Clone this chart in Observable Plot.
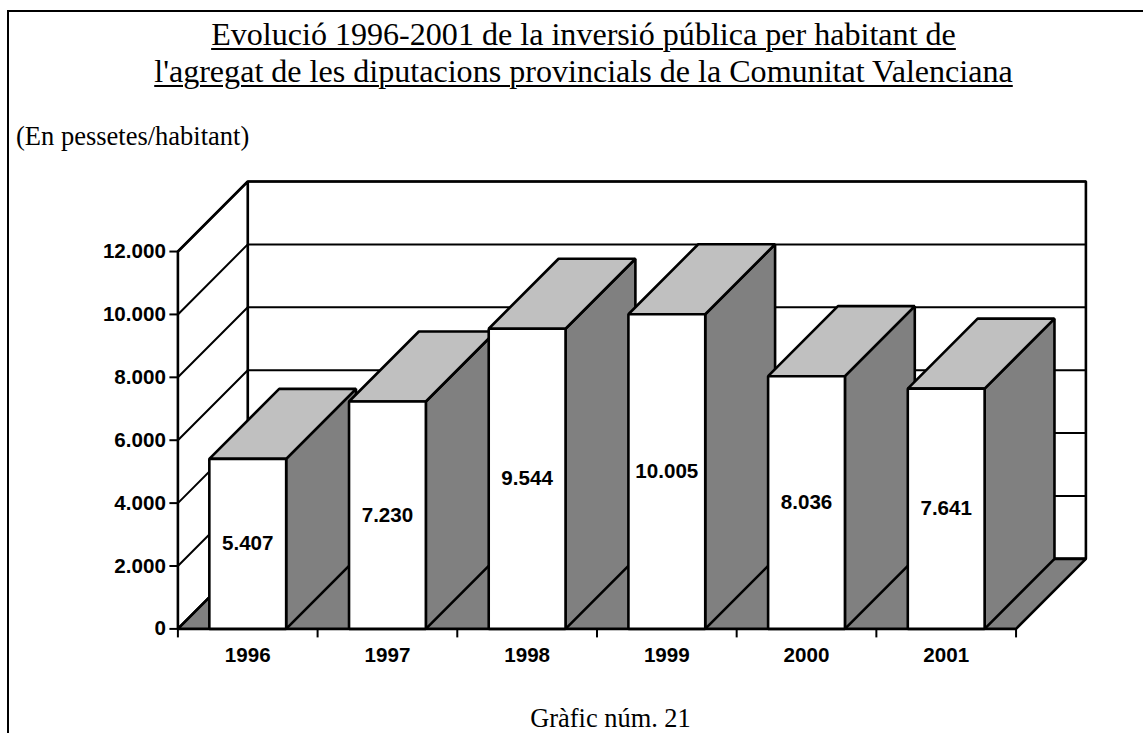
<!DOCTYPE html>
<html lang="ca">
<head>
<meta charset="utf-8">
<script src="https://cdn.jsdelivr.net/npm/d3@7"></script>
<script src="https://cdn.jsdelivr.net/npm/@observablehq/plot@0.6"></script>
<style>
html, body { margin: 0; padding: 0; background: #fff; overflow: hidden; }
#page { position: relative; width: 1143px; height: 733px; overflow: hidden; }
#frame { position: absolute; z-index: 2; left: 7px; top: 10px; right: -4px; bottom: -4px; border-left: 2px solid #000; border-top: 2px solid #000; pointer-events: none; }
#title, #unit, #caption { position: absolute; font-family: "Liberation Serif", serif; color: #000; }
#title { left: 0; width: 1167px; top: 16px; text-align: center; font-size: 32.1px; line-height: 37px; text-decoration: underline; text-underline-offset: 3px; text-decoration-thickness: 2px; }
#unit { left: 16px; top: 121px; font-size: 26.5px; line-height: 30px; }
#caption { left: 0; width: 1221px; top: 705.5px; text-align: center; font-size: 26.4px; line-height: 24px; }
#chart { position: absolute; left: 0; top: 170px; }
</style>
</head>
<body>
<div id="page">
  <div id="title">Evolució 1996-2001 de la inversió pública per habitant de<br>l'agregat de les diputacions provincials de la Comunitat Valenciana</div>
  <div id="unit">(En pessetes/habitant)</div>
  <div id="chart"></div>
  <div id="caption">Gràfic núm. 21</div>
  <div id="frame"></div>
</div>
<script>
// Data
const years = [1996, 1997, 1998, 1999, 2000, 2001];
const values = [5407, 7230, 9544, 10005, 8036, 7641];
const yTicks = [0, 2000, 4000, 6000, 8000, 10000, 12000];

// Oblique depth of the 3D projection, in data units
const depthX = 0.5, depthY = 2227;
const barLo = 0.225, barHi = 0.775;

const fmt = d3.formatLocale({decimal: ",", thousands: ".", grouping: [3], currency: ["", ""]}).format(",");

const poly = (id, fill, pts) => pts.map(([x, y]) => ({id, fill, x, y}));
const n = years.length, yMax = yTicks[yTicks.length - 1];

// Walls and floor
const walls = [
  ...poly("back", "#fff", [[depthX, depthY], [n + depthX, depthY], [n + depthX, yMax + depthY], [depthX, yMax + depthY]]),
  ...poly("left", "#fff", [[0, 0], [depthX, depthY], [depthX, yMax + depthY], [0, yMax]]),
  ...poly("floor", "#808080", [[0, 0], [n, 0], [n + depthX, depthY], [depthX, depthY]])
];
const grid = yTicks.flatMap(v => [
  {id: v, x: 0, y: v}, {id: v, x: depthX, y: v + depthY}, {id: v, x: n + depthX, y: v + depthY}
]);

// Bars, left to right so each one hides the previous bar's side
const faces = values.flatMap((v, i) => {
  const a = i + barLo, b = i + barHi;
  return [
    ...poly(`side${i}`, "#808080", [[b, 0], [b + depthX, depthY], [b + depthX, v + depthY], [b, v]]),
    ...poly(`top${i}`, "#c0c0c0", [[a, v], [b, v], [b + depthX, v + depthY], [a + depthX, v + depthY]]),
    ...poly(`front${i}`, "#fff", [[a, 0], [b, 0], [b, v], [a, v]])
  ];
});

const polygons = (data, strokeWidth) => Plot.line(data, {
  x: "x", y: "y", z: "id", fill: d => d.fill, stroke: "#000", strokeWidth,
  curve: "linear-closed", strokeLinejoin: "miter"
});

const chart = Plot.plot({
  width: 1143, height: 530,
  marginLeft: 177.4, marginRight: 57.6, marginTop: 11, marginBottom: 71.6,
  x: {domain: [0, n + depthX], axis: null},
  y: {domain: [0, yMax + depthY], axis: null},
  style: {fontFamily: "'Liberation Sans', Arial, sans-serif", fontSize: "20.6px", fontWeight: "bold", color: "#000", background: "#fff", overflow: "visible"},
  marks: [
    polygons(walls, 2.6),
    Plot.line(grid, {x: "x", y: "y", z: "id", stroke: "#000", strokeWidth: 2}),
    polygons(faces, 2.6),
    Plot.axisY({ticks: yTicks, tickFormat: fmt, tickSize: 8, tickPadding: 4, strokeWidth: 2, label: null}),
    Plot.axisX({ticks: d3.range(n + 1), fill: "none", tickSize: 9, strokeWidth: 2, label: null}),
    Plot.text(years, {x: (d, i) => i + 0.5, y: 0, text: d => String(d), dy: 27, fill: "#000"}),
    Plot.text(values, {x: (d, i) => i + 0.5, y: d => d / 2, text: d => fmt(d), fill: "#000"})
  ]
});
document.getElementById("chart").append(chart);
</script>
</body>
</html>
